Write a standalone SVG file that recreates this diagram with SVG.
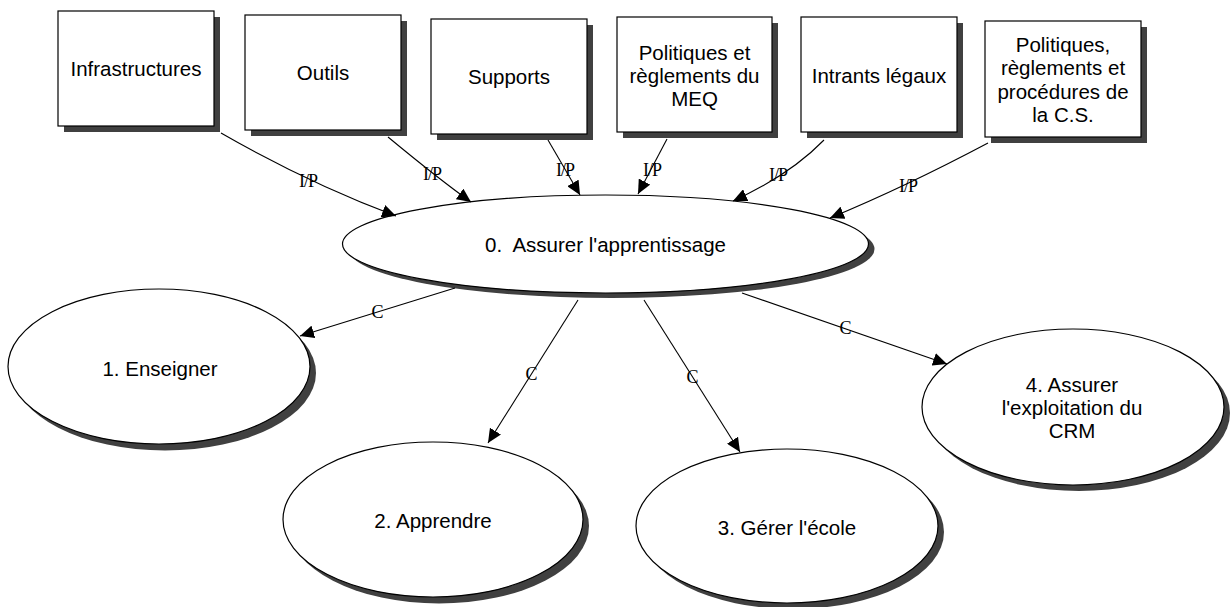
<svg xmlns="http://www.w3.org/2000/svg" width="1230" height="607" viewBox="0 0 1230 607">
<style>
.sh{fill:#404040;stroke:none}
.bx{fill:#fff;stroke:#000;stroke-width:1.2}
.el{fill:#fff;stroke:#000;stroke-width:1.2}
.t{font-family:"Liberation Sans",Arial,sans-serif;font-size:20.5px;fill:#000;text-anchor:middle}
.lb{font-family:"Liberation Serif","Times New Roman",serif;font-size:18px;fill:#000;text-anchor:middle;letter-spacing:-1px}
.cn{fill:none;stroke:#000;stroke-width:1.1;marker-end:url(#ah)}
</style>
<defs>
<marker id="ah" markerUnits="userSpaceOnUse" markerWidth="15" markerHeight="13" refX="14" refY="6.5" orient="auto">
<path d="M0,0 L14,6.5 L0,13 z" fill="#000"/>
</marker>
</defs>
<rect width="1230" height="607" fill="#fff"/>

<g id="box-infrastructures">
<rect class="sh" x="64" y="17" width="156" height="115"/>
<rect class="bx" x="58" y="11" width="156" height="115"/>
<text class="t" x="136" y="76">Infrastructures</text>
</g>
<g id="box-outils">
<rect class="sh" x="251" y="21" width="156" height="115"/>
<rect class="bx" x="245" y="15" width="156" height="115"/>
<text class="t" x="323" y="80">Outils</text>
</g>
<g id="box-supports">
<rect class="sh" x="437" y="25" width="156" height="115"/>
<rect class="bx" x="431" y="19" width="156" height="115"/>
<text class="t" x="509" y="84">Supports</text>
</g>
<g id="box-meq">
<rect class="sh" x="623" y="23" width="155" height="115"/>
<rect class="bx" x="617" y="17" width="155" height="115"/>
<text class="t" x="694.5" y="60">Politiques et</text>
<text class="t" x="694.5" y="83">règlements du</text>
<text class="t" x="694.5" y="106">MEQ</text>
</g>
<g id="box-intrants">
<rect class="sh" x="807" y="23" width="156" height="115"/>
<rect class="bx" x="801" y="17" width="156" height="115"/>
<text class="t" x="879" y="83">Intrants légaux</text>
</g>
<g id="box-cs">
<rect class="sh" x="991" y="27" width="156" height="116"/>
<rect class="bx" x="985" y="21" width="156" height="116"/>
<text class="t" x="1063" y="52">Politiques,</text>
<text class="t" x="1063" y="75">règlements et</text>
<text class="t" x="1063" y="99">procédures de</text>
<text class="t" x="1063" y="122">la C.S.</text>
</g>

<g id="node-0">
<ellipse class="sh" cx="611.5" cy="249" rx="263" ry="49"/>
<ellipse class="el" cx="605.5" cy="244" rx="263" ry="49"/>
<text class="t" x="605.5" y="252" xml:space="preserve">0.  Assurer l'apprentissage</text>
</g>
<g id="node-1">
<ellipse class="sh" cx="165" cy="373" rx="151" ry="77.5"/>
<ellipse class="el" cx="159" cy="366.5" rx="151" ry="77.5"/>
<text class="t" x="160" y="376">1. Enseigner</text>
</g>
<g id="node-2">
<ellipse class="sh" cx="439" cy="526" rx="150" ry="77.5"/>
<ellipse class="el" cx="433" cy="519.5" rx="150" ry="77.5"/>
<text class="t" x="433" y="528">2. Apprendre</text>
</g>
<g id="node-3">
<ellipse class="sh" cx="793" cy="532" rx="151" ry="77"/>
<ellipse class="el" cx="787" cy="526" rx="151" ry="77"/>
<text class="t" x="787" y="535">3. Gérer l'école</text>
</g>
<g id="node-4">
<ellipse class="sh" cx="1079" cy="413" rx="151" ry="78"/>
<ellipse class="el" cx="1073" cy="407" rx="151" ry="78"/>
<text class="t" x="1072" y="392">4. Assurer</text>
<text class="t" x="1072" y="415">l'exploitation du</text>
<text class="t" x="1072" y="438">CRM</text>
</g>

<g id="connectors">
<path class="cn" d="M221,133 Q308,183 396,216"/>
<path class="cn" d="M388,137 Q440,180 471,202"/>
<path class="cn" d="M548,140 L580,195"/>
<path class="cn" d="M667,139 L638,194"/>
<path class="cn" d="M824,140 Q790,175 733,201"/>
<path class="cn" d="M988,143 Q905,187 830,218"/>
<path class="cn" d="M455,288 L300,336"/>
<path class="cn" d="M578,300 L488,443"/>
<path class="cn" d="M644,300 L740,452"/>
<path class="cn" d="M742,293 L947,364"/>
<text class="lb" x="308" y="187">I/P</text>
<text class="lb" x="432" y="180">I/P</text>
<text class="lb" x="565" y="176">I/P</text>
<text class="lb" x="652" y="176">I/P</text>
<text class="lb" x="778" y="181">I/P</text>
<text class="lb" x="908" y="192">I/P</text>
<text class="lb" x="377" y="318">C</text>
<text class="lb" x="531" y="380">C</text>
<text class="lb" x="692" y="383">C</text>
<text class="lb" x="845" y="334">C</text>
</g>
</svg>
